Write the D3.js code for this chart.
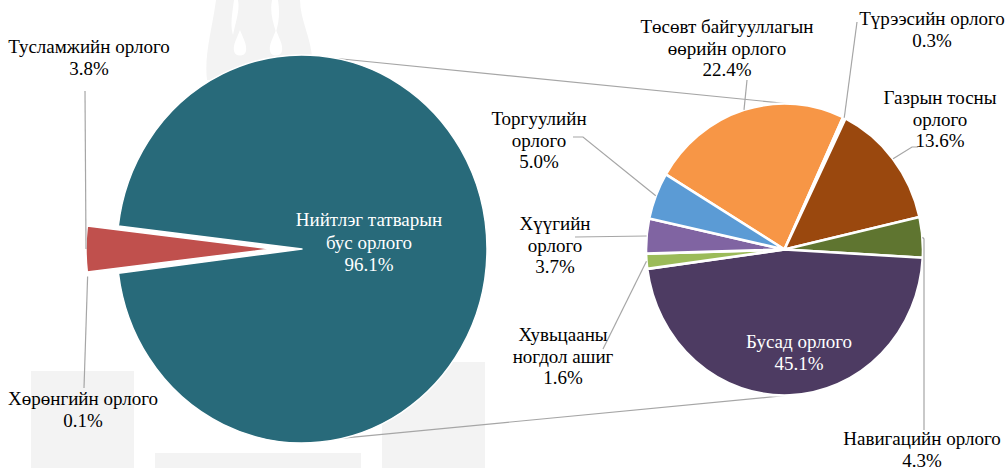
<!DOCTYPE html>
<html><head><meta charset="utf-8">
<script src="https://cdn.jsdelivr.net/npm/d3@7"></script>
<style>
html,body{margin:0;padding:0;background:#fff;}
</style></head>
<body>
<svg id="chart" width="1005" height="468" style="display:block"></svg>
<script>
// ---- data ----
const mainCategories = ["Хөрөнгийн орлого", "Тусламжийн орлого", "Нийтлэг татварын\nбус орлого"];
const mainValues = [0.1, 3.8, 96.1];
const mainColors = ["#ffffff", "#c0504d", "#286a7a"];

const subCategories = ["Төсөвт байгууллагын\nөөрийн орлого", "Түрээсийн орлого", "Газрын тосны\nорлого", "Навигацийн орлого", "Бусад орлого", "Хувьцааны\nногдол ашиг", "Хүүгийн\nорлого", "Торгуулийн\nорлого"];
const subValues = [22.4, 0.3, 13.6, 4.3, 45.1, 1.6, 3.7, 5.0];
const subColors = ["#f79646", "#ffffff", "#9a480e", "#5f7530", "#4d3b62", "#9bbb59", "#8064a2", "#5b9bd5"];

// ---- layout ----
const deg = Math.PI / 180;
const L = {cx: 302, cy: 249, rx: 185, ry: 194, start: 262.8, explode: [31, 31, 0]};
const R = {cx: 784.5, cy: 249.5, rx: 138.5, ry: 146, start: -59};
const fontSize = 19, lineH = 21.5;
const FONT = '"Liberation Serif"';

// label anchor (center x, first baseline y), text colour, leader points (label side)
const mainLabelLayout = [
  {x: 83, y: 405, fill: "#000", leader: [[84, 388]]},
  {x: 89, y: 53, fill: "#000", leader: [[85, 91]]},
  {x: 369, y: 226, fill: "#fff", leader: null, lh: 22.5}
];
const subLabelLayout = [
  {x: 727, y: 33, fill: "#000", leader: [[747, 80]]},
  {x: 932, y: 25, fill: "#000", leader: [[857, 22]]},
  {x: 940, y: 104, fill: "#000", leader: [[918, 147], [912, 147]]},
  {x: 922, y: 445, fill: "#000", leader: [[924, 430], [924, 239]]},
  {x: 799, y: 348, fill: "#fff", leader: null},
  {x: 563, y: 341, fill: "#000", leader: [[603, 349]]},
  {x: 555, y: 230, fill: "#000", leader: [[575, 237]]},
  {x: 539, y: 125, fill: "#000", leader: [[573, 137], [583, 137]]}
];
// connector angles (deg): [left pie angle, right pie angle]
const connectors = [[10.9, 0.8], [167.2, 179.5]];

const svg = d3.select("#chart");

// ---- faint background watermark ----
const wm = svg.append("g").attr("fill", "#f3f3f3");
wm.append("rect").attr("x", 31).attr("y", 371).attr("width", 103).attr("height", 97);
wm.append("rect").attr("x", 155).attr("y", 453).attr("width", 206).attr("height", 15);
wm.append("rect").attr("x", 382).attr("y", 362).attr("width", 103).attr("height", 106);
wm.append("path").attr("d", "M207,80 C204,55 212,30 216,0 L234,0 C232,15 230,25 233,35 C236,20 240,10 238,0 L272,0 C270,10 272,20 276,32 C279,22 280,12 278,0 L300,0 C300,20 312,40 312,60 L312,80 Z");
const wmw = svg.append("g").attr("fill", "#ffffff");
wmw.append("path").attr("d", "M240,30 C244,40 247,45 246,51 C245,57 235,57 234,51 C233,45 236,40 240,30 Z");
wmw.append("path").attr("d", "M276,30 C280,40 283,45 282,51 C281,57 271,57 270,51 C269,45 272,40 276,30 Z");

// ---- helpers ----
function pt(P, a, r) { // angle a radians clockwise from 12 o'clock
  return [P.cx + P.rx * r * Math.sin(a), P.cy - P.ry * r * Math.cos(a)];
}
function drawPie(P, values, colors, strokeW, explode) {
  const pie = d3.pie().sort(null).value(d => d)
    .startAngle(P.start * deg).endAngle(P.start * deg + 2 * Math.PI);
  const arcs = pie(values);
  const arc = d3.arc().innerRadius(0).outerRadius(P.rx);
  const g = svg.append("g");
  arcs.forEach((a, i) => {
    const mid = (a.startAngle + a.endAngle) / 2;
    const e = explode ? explode[i] : 0;
    const ox = e * Math.sin(mid), oy = -e * Math.cos(mid);
    g.append("path")
      .attr("transform", `translate(${P.cx + ox},${P.cy + oy}) scale(1,${P.ry / P.rx})`)
      .attr("d", arc(a))
      .attr("fill", colors[i])
      .attr("stroke", "#fff")
      .attr("stroke-width", strokeW)
      .attr("stroke-linejoin", "round")
      .style("vector-effect", "non-scaling-stroke");
  });
  return arcs;
}

// ---- connectors ----
const conn = svg.append("g").attr("stroke", "#a6a6a6").attr("stroke-width", 1.2).attr("fill", "none");
connectors.forEach(c => {
  const p1 = pt(L, c[0] * deg, 1), p2 = pt(R, c[1] * deg, 1);
  conn.append("line").attr("x1", p1[0]).attr("y1", p1[1]).attr("x2", p2[0]).attr("y2", p2[1]);
});

const mainArcs = drawPie(L, mainValues, mainColors, 1.5, L.explode);
const subArcs = drawPie(R, subValues, subColors, 2.6, null);

// ---- labels and leaders ----
const fmt = v => v.toFixed(1) + "%";
function drawLabels(P, arcs, cats, vals, layout, explode) {
  arcs.forEach((a, i) => {
    const lay = layout[i];
    const mid = (a.startAngle + a.endAngle) / 2;
    if (lay.leader) {
      const e = explode ? explode[i] : 0;
      const edge = [P.cx + e * Math.sin(mid) + P.rx * Math.sin(mid), P.cy - e * Math.cos(mid) - P.ry * Math.cos(mid)];
      const pts = lay.leader.concat([edge]);
      svg.append("path")
        .attr("d", d3.line()(pts))
        .attr("fill", "none").attr("stroke", "#a6a6a6").attr("stroke-width", 1.2);
    }
    const lines = cats[i].split("\n").concat([fmt(vals[i])]);
    lines.forEach((s, k) => {
      svg.append("text")
        .attr("x", lay.x)
        .attr("y", lay.y + k * (lay.lh || lineH))
        .attr("text-anchor", "middle")
        .attr("font-size", fontSize)
        .attr("fill", lay.fill)
        .style("font-family", FONT)
        .text(s);
    });
  });
}
drawLabels(L, mainArcs, mainCategories, mainValues, mainLabelLayout, L.explode);
drawLabels(R, subArcs, subCategories, subValues, subLabelLayout, null);
</script>
</body></html>
